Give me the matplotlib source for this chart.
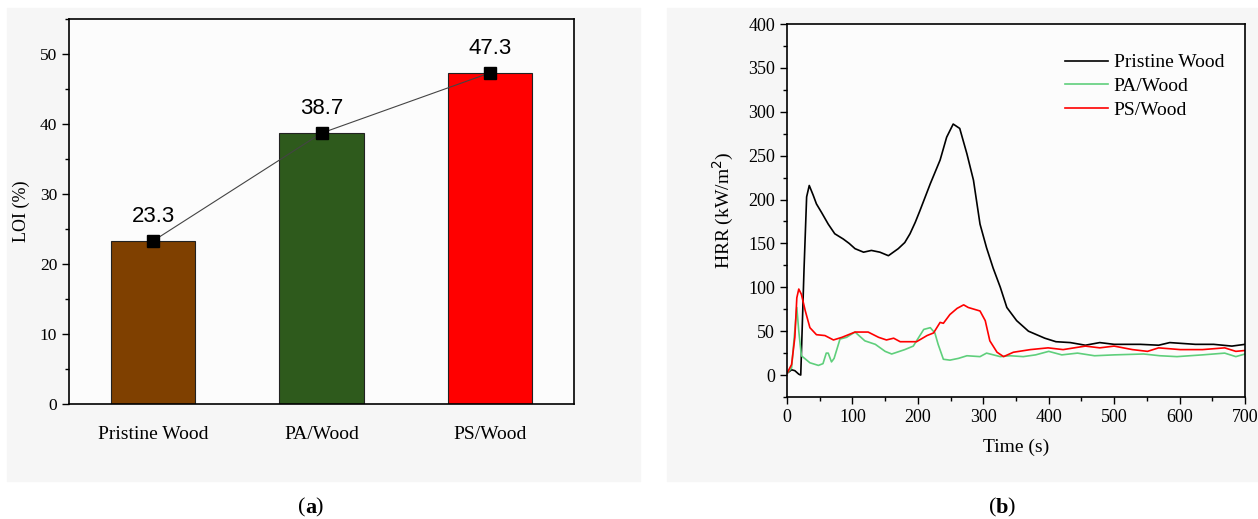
import matplotlib.pyplot as plt
from matplotlib.patches import Rectangle
from matplotlib.ticker import MultipleLocator

# LOI results
samples = ["Pristine Wood", "PA/Wood", "PS/Wood"]
loi = [23.3, 38.7, 47.3]
bar_colors = ["#7f4000", "#2e5a1c", "#ff0000"]

# HRR curves (time in s, HRR in kW/m2)
t_pristine = [0, 7, 12, 18, 21, 26, 30, 34, 40, 45, 53, 63, 73, 86, 95, 104, 117, 129, 142, 155,
              170, 180, 188, 196, 203, 219, 234, 244, 254, 264, 275, 285, 295, 305, 315, 326,
              336, 351, 369, 394, 411, 433, 456, 478, 500, 540, 568, 585, 624, 652, 680, 700]
hrr_pristine = [2, 6, 5, 1, 0, 120, 203, 216, 205, 195, 185, 172, 161, 155, 150, 144, 140, 142, 140, 136,
                144, 151, 161, 174, 187, 218, 245, 271, 286, 281, 252, 222, 172, 145, 122, 100,
                77, 62, 50, 42, 38, 37, 34, 37, 35, 35, 34, 37, 35, 35, 33, 35]

t_pa = [0, 7, 13, 15, 18, 22, 35, 48, 55, 60, 63, 68, 72, 81, 91, 104, 119, 135, 150, 160, 180,
        193, 209, 219, 226, 231, 239, 249, 262, 275, 295, 305, 326, 341, 361, 380, 400, 420,
        444, 470, 500, 545, 570, 596, 635, 669, 686, 700]
hrr_pa = [2, 8, 60, 77, 50, 22, 14, 11, 13, 25, 25, 15, 19, 41, 43, 49, 39, 35, 27, 24, 29,
          33, 52, 54, 48, 35, 18, 17, 19, 22, 21, 25, 21, 22, 21, 23, 27, 23,
          25, 22, 23, 24, 22, 21, 23, 25, 21, 24]

t_ps = [0, 7, 12, 15, 18, 22, 28, 35, 45, 58, 71, 84, 104, 124, 140, 152, 163, 173, 198, 214,
        224, 234, 239, 249, 260, 270, 277, 295, 303, 310, 321, 331, 346, 372, 399, 422, 456,
        478, 500, 528, 551, 568, 601, 635, 669, 686, 700]
hrr_ps = [2, 12, 43, 88, 98, 92, 73, 54, 46, 45, 40, 43, 49, 49, 43, 40, 42, 38, 38, 45,
          48, 60, 59, 69, 76, 80, 77, 73, 62, 39, 26, 21, 26, 29, 31, 29, 33,
          31, 33, 29, 27, 31, 29, 29, 31, 27, 28]

serif = "Liberation Serif"
fig = plt.figure(figsize=(12.58, 5.19), dpi=100)

# light panel backgrounds behind each subplot
for x0, w in [(7, 633), (667, 591)]:
    fig.add_artist(Rectangle((x0 / 1258, 1 - 481 / 519), w / 1258, 473 / 519,
                             transform=fig.transFigure, color="#f6f6f6", zorder=-5))

# (a) LOI bar chart
ax1 = fig.add_axes([69 / 1258, 115 / 519, 505 / 1258, 385 / 519])
ax1.set_facecolor("#fcfcfc")
x = [1, 2, 3]
ax1.bar(x, loi, width=0.5, color=bar_colors, edgecolor="#222222", linewidth=0.8)
ax1.plot(x, loi, color="#444444", linewidth=0.8, marker="s", markersize=9,
         markerfacecolor="black", markeredgecolor="black")
for xi, v in zip(x, loi):
    ax1.annotate(f"{v}", (xi, v), xytext=(0, 10), textcoords="offset points",
                 ha="center", va="bottom", fontsize=16, family="Liberation Sans")
ax1.set_xlim(0.5, 3.5)
ax1.set_ylim(0, 55)
ax1.set_xticks(x)
ax1.set_xticklabels(samples, fontsize=14, family=serif)
ax1.tick_params(axis="x", length=0, pad=16)
ax1.yaxis.set_major_locator(MultipleLocator(10))
ax1.yaxis.set_minor_locator(MultipleLocator(5))
ax1.tick_params(axis="y", which="major", length=5, width=1, direction="out", labelsize=12.5)
ax1.tick_params(axis="y", which="minor", length=3, width=1, direction="out")
for lbl in ax1.get_yticklabels():
    lbl.set_family(serif)
ax1.set_ylabel("LOI (%)", fontsize=13, family=serif, labelpad=7)
for s in ax1.spines.values():
    s.set_linewidth(1.2)

# (b) HRR curves
ax2 = fig.add_axes([787 / 1258, 122 / 519, 458 / 1258, 373 / 519])
ax2.set_facecolor("#fcfcfc")
ax2.plot(t_pristine, hrr_pristine, color="black", linewidth=1.2, label="Pristine Wood")
ax2.plot(t_pa, hrr_pa, color="#5fcf7c", linewidth=1.2, label="PA/Wood")
ax2.plot(t_ps, hrr_ps, color="#ff0000", linewidth=1.2, label="PS/Wood")
ax2.set_xlim(0, 700)
ax2.set_ylim(-25, 400)
ax2.xaxis.set_major_locator(MultipleLocator(100))
ax2.xaxis.set_minor_locator(MultipleLocator(50))
ax2.yaxis.set_major_locator(MultipleLocator(50))
ax2.yaxis.set_minor_locator(MultipleLocator(25))
ax2.tick_params(which="major", length=5, width=1, direction="out", labelsize=13)
ax2.tick_params(which="minor", length=3, width=1, direction="out")
for lbl in ax2.get_xticklabels() + ax2.get_yticklabels():
    lbl.set_family(serif)
ax2.set_xlabel("Time (s)", fontsize=14, family=serif, labelpad=9)
ax2.set_ylabel("HRR (kW/m$^2$)", fontsize=14, family=serif, labelpad=9)
for s in ax2.spines.values():
    s.set_linewidth(1.2)
ax2.legend(loc="upper left", frameon=False, prop={"family": serif, "size": 14},
           handlelength=2.2, handletextpad=0.3, labelspacing=0.32,
           borderpad=0, borderaxespad=0, bbox_to_anchor=(0.607, 0.92))

# panel captions
fig.text(305 / 1258, 1 - 508 / 519, "(", ha="right", va="center", fontsize=16, family=serif)
fig.text(305 / 1258, 1 - 508 / 519, "a", ha="left", va="center", fontsize=16,
         family=serif, fontweight="bold")
fig.text(315 / 1258, 1 - 508 / 519, ")", ha="left", va="center", fontsize=16, family=serif)
fig.text(996 / 1258, 1 - 508 / 519, "(", ha="right", va="center", fontsize=16, family=serif)
fig.text(996 / 1258, 1 - 508 / 519, "b", ha="left", va="center", fontsize=16,
         family=serif, fontweight="bold")
fig.text(1007 / 1258, 1 - 508 / 519, ")", ha="left", va="center", fontsize=16, family=serif)

fig.savefig("out.png", dpi=100, facecolor="white")
